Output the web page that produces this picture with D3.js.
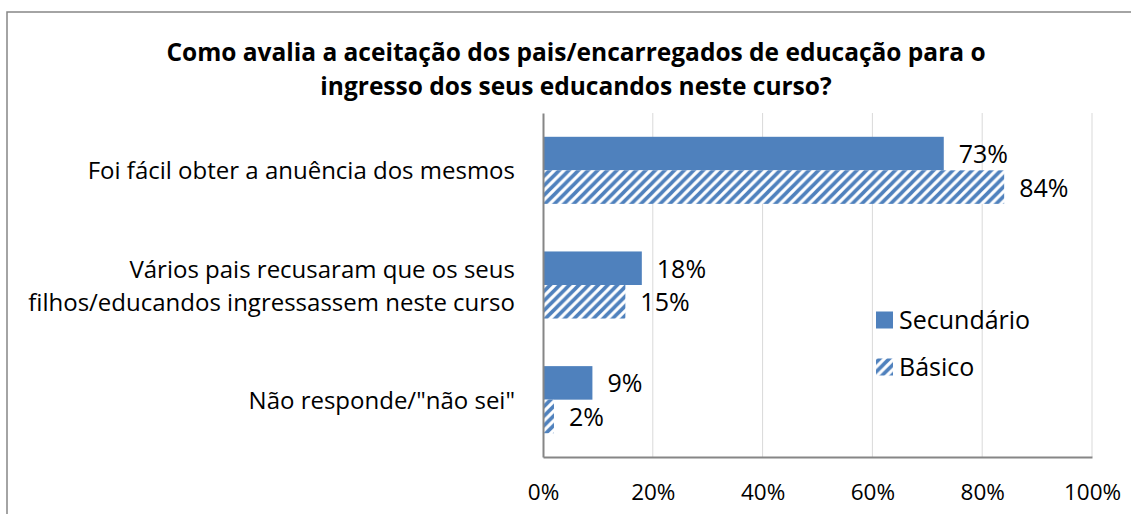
<!DOCTYPE html>
<html><head><meta charset="utf-8">
<script src="https://cdn.jsdelivr.net/npm/d3@7"></script>
<style>body{margin:0;background:#fff;} svg{display:block;}</style>
</head><body>
<svg id="c" width="1131" height="514"></svg>
<script>
const titleLines = ["Como avalia a aceitação dos pais/encarregados de educação para o", "ingresso dos seus educandos neste curso?"];
const categories = ["Foi fácil obter a anuência dos mesmos", "Vários pais recusaram que os seus|filhos/educandos ingressassem neste curso", "Não responde/\"não sei\""];
const seriesNames = ["Secundário", "Básico"];
const secundario = [73, 18, 9];
const basico = [84, 15, 2];
const ticks = [0, 20, 40, 60, 80, 100];

const FONT = "'Open Sans', sans-serif";
const blue = "#4F81BD";
const svg = d3.select("#c");
const defs = svg.append("defs");
const P = 9.6;
const pat = defs.append("pattern").attr("id","hatch").attr("patternUnits","userSpaceOnUse")
  .attr("width",P).attr("height",P);
pat.append("rect").attr("width",P).attr("height",P).attr("fill","#fff");
pat.append("path").attr("d",`M${-P/4},${P/4} L${P/4},${-P/4} M0,${P} L${P},0 M${P*0.75},${P*1.25} L${P*1.25},${P*0.75}`)
  .attr("stroke",blue).attr("stroke-width",3.6);

// frame
svg.append("rect").attr("x",7).attr("y",12).attr("width",1140).attr("height",520)
  .attr("fill","none").attr("stroke","#868686").attr("stroke-width",1.5);

const x = d3.scaleLinear().domain([0,100]).range([543,1092]);
const y = d3.scaleBand().domain(categories).range([113,457]).paddingInner(0.415).paddingOuter(0.2075);
const ys = d3.scaleBand().domain(seriesNames).range([0,y.bandwidth()]);

// gridlines
svg.append("g").selectAll("line").data(ticks.slice(1)).join("line")
  .attr("x1",d=>x(d)).attr("x2",d=>x(d)).attr("y1",113).attr("y2",457)
  .attr("stroke","#D9D9D9").attr("stroke-width",1);

// bars
const data = [secundario, basico];
data.forEach((vals,si)=>{
  svg.append("g").selectAll("rect").data(vals).join("rect")
    .attr("x",x(0)).attr("y",(d,i)=>y(categories[i])+ys(seriesNames[si]))
    .attr("width",d=>x(d)-x(0)).attr("height",ys.bandwidth())
    .attr("fill",si===0?blue:"url(#hatch)");
  svg.append("g").selectAll("text").data(vals).join("text")
    .attr("x",d=>x(d)+15).attr("y",(d,i)=>y(categories[i])+ys(seriesNames[si])+ys.bandwidth()/2)
    .attr("dy","0.38em").attr("font-family",FONT).attr("font-size",25).attr("fill","#000")
    .text(d=>d+"%");
});

// axes
const xAxis = d3.axisBottom(x).tickValues(ticks).tickSize(0).tickFormat(d=>d+"%");
const gx = svg.append("g").attr("transform","translate(0,457)").call(xAxis);
gx.select(".domain").attr("stroke","#868686").attr("stroke-width",2);
gx.selectAll("text").attr("font-family",FONT).attr("font-size",22.5).attr("fill","#000")
  .attr("y",35).attr("dy","0.36em");
const yAxis = d3.axisLeft(y).tickSize(0).tickFormat("");
const gy = svg.append("g").attr("transform","translate(543,0)").call(yAxis);
gy.select(".domain").attr("stroke","#868686").attr("stroke-width",2);

// category labels
categories.forEach(c=>{
  const lines = c.split("|");
  const cy = y(c)+y.bandwidth()/2;
  const t = svg.append("text").attr("x",515).attr("text-anchor","end")
    .attr("font-family",FONT).attr("font-size",24).attr("fill","#000");
  lines.forEach((l,i)=>{
    t.append("tspan").attr("x",515).attr("y",cy + (i-(lines.length-1)/2)*33).attr("dy","0.38em").text(l);
  });
});

// title
const tt = svg.append("text").attr("text-anchor","middle").attr("font-family",FONT)
  .attr("font-size",24.5).attr("font-weight","bold").attr("fill","#000");
titleLines.forEach((l,i)=>tt.append("tspan").attr("x",576).attr("y",52+i*34).attr("dy","0.36em").text(l));

// legend
const lg = svg.append("g");
seriesNames.forEach((s,i)=>{
  const ly = 320 + i*47;
  lg.append("rect").attr("x",876).attr("y",ly-8.5).attr("width",17).attr("height",17)
    .attr("fill",i===0?blue:"url(#hatch)");
  lg.append("text").attr("x",899).attr("y",ly).attr("dy","0.36em").attr("font-family",FONT)
    .attr("font-size",25).attr("fill","#000").text(s);
});
</script>
</body></html>
